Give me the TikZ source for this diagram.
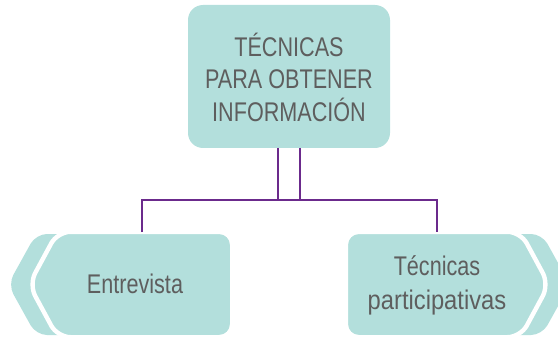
\documentclass[tikz,border=0pt]{standalone}
\usepackage{fontspec}
\setmainfont{Liberation Sans}[FakeStretch=0.8]
\definecolor{teal1}{HTML}{B3DFDC}
\definecolor{txtgray}{HTML}{5E5E5E}
\definecolor{linep}{HTML}{6B2A8C}
\begin{document}
\begin{tikzpicture}[x=1pt,y=-1pt,
  mainbox/.style={fill=teal1,draw=white,line width=4.4pt,rounded corners=13pt},
  band/.style={fill=teal1,rounded corners=11pt},
  lbl/.style={text=txtgray,font=\fontsize{27}{32.5}\selectfont,align=center,inner sep=0pt},
  conn/.style={draw=linep,line width=2pt}]
\useasboundingbox (0,0) rectangle (558,337);
% top box
\node[fill=teal1,rounded corners=15pt,minimum width=202pt,minimum height=143pt,inner sep=0pt] (top) at (289,76.5) {};
\node[lbl] (toptext) at (289,77) {TÉCNICAS\\PARA OBTENER\\INFORMACIÓN};
% left shape
\fill[band] (8,284.5) -- (36,234) -- (120,234) -- (120,335) -- (36,335) -- cycle;
\path[mainbox] (29,284.5) -- (57.5,231.8) -- (232.2,231.8) -- (232.2,337.2) -- (57.5,337.2) -- cycle;
\node[lbl] (left) at (135,284) {Entrevista};
% right shape
\fill[band] (570,284.5) -- (542,234) -- (460,234) -- (460,335) -- (542,335) -- cycle;
\path[mainbox] (549,284.5) -- (520.5,231.8) -- (345.8,231.8) -- (345.8,337.2) -- (520.5,337.2) -- cycle;
\node[lbl,font=\fontsize{27}{34}\selectfont] (right) at (437,285) {Técnicas\\\addfontfeature{FakeStretch=0.88}participativas};
% connectors
\coordinate (ja) at (278,148);
\coordinate (jb) at (300,148);
\coordinate (la) at (142,232);
\coordinate (ra) at (437,232);
\draw[conn] (ja) -- (278,200);
\draw[conn] (jb) -- (300,200);
\draw[conn] (la) |- (278,200) -- (300,200) -| (ra);
\end{tikzpicture}
\end{document}
